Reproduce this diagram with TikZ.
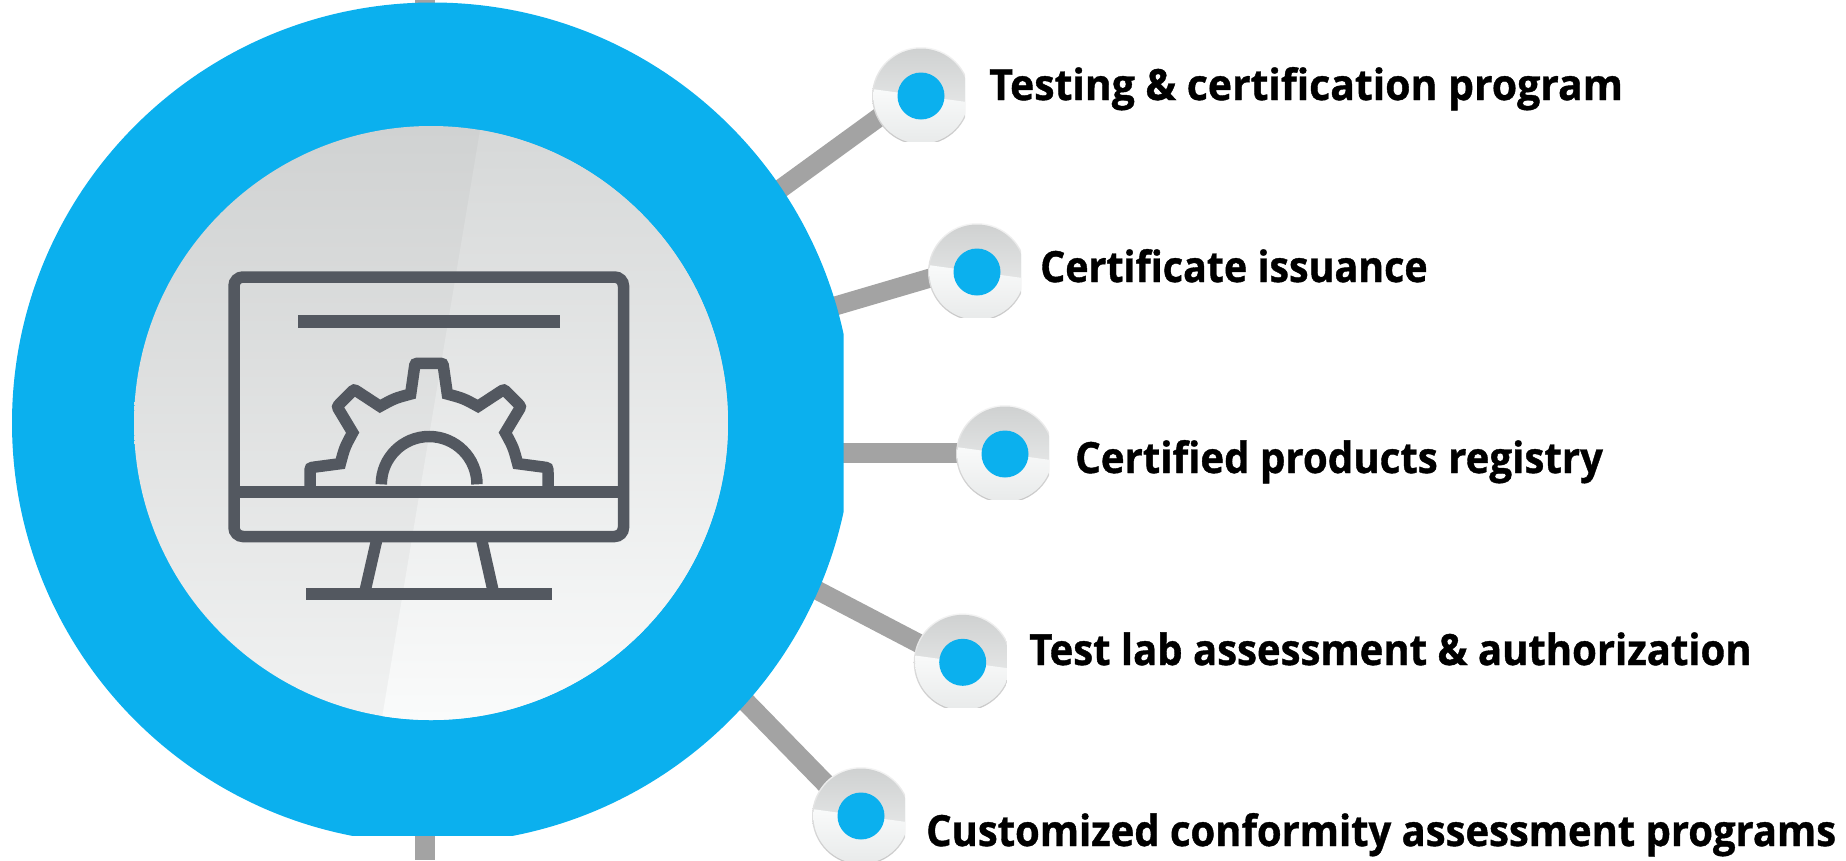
\documentclass[tikz,border=0pt]{standalone}
\usepackage{fontspec}
\newfontfamily\lblA[FakeStretch=0.952,BoldFeatures={FakeBold=0.9}]{Open Sans}
\newfontfamily\lblB[FakeStretch=0.916,BoldFeatures={FakeBold=0.9}]{Open Sans}
\newfontfamily\lblC[FakeStretch=0.935,BoldFeatures={FakeBold=0.9}]{Open Sans}
\newfontfamily\lblD[FakeStretch=0.931,BoldFeatures={FakeBold=0.9}]{Open Sans}
\newfontfamily\lblE[FakeStretch=0.929,BoldFeatures={FakeBold=0.9}]{Open Sans}
\definecolor{hubblue}{HTML}{0BB0EE}
\definecolor{connGrey}{HTML}{A3A3A3}
\definecolor{iconGrey}{HTML}{535860}
\definecolor{discTopA}{HTML}{D0D2D2}
\definecolor{discBotA}{HTML}{F1F2F2}
\definecolor{discTopB}{HTML}{D6D8D8}
\definecolor{discBotB}{HTML}{FAFBFB}
\definecolor{satTop}{HTML}{CFD1D1}
\definecolor{satTopL}{HTML}{F2F3F3}
\definecolor{satLow}{HTML}{FAFBFB}
\definecolor{satLowR}{HTML}{E8EAEA}
\definecolor{rimLight}{HTML}{F4F4F4}
\definecolor{rimDark}{HTML}{C8C8C8}
\tikzset{
  conn/.style={draw=connGrey,line width=19pt},
  iconline/.style={draw=iconGrey,line width=11.5pt,line join=miter},
  dot/.style={circle,fill=hubblue,minimum size=47pt,inner sep=0pt},
  lbl/.style={anchor=base west,inner sep=0pt,text=black},
}
\newcommand{\lsize}{\fontsize{43}{43}\selectfont\bfseries}
\newcommand{\satellite}[2]{%
  \begin{scope}[shift={(#1)}]
    \clip (-50,-50) rectangle (44,45);
    \shade[shading angle=300,top color=rimLight,bottom color=rimDark] (0,0) circle (49);
    \begin{scope}
      \clip (0,0) circle (47.5);
      \shade[shading angle=285,top color=satTop,bottom color=satTopL] (-48,-48) rectangle (48,48);
      \clip (-60,-8.5) -- (60,8) -- (60,60) -- (-60,60) -- cycle;
      \shade[shading angle=50,top color=satLow,bottom color=satLowR] (-48,-10) rectangle (48,48);
    \end{scope}
    \node[dot] (#2) at (0,0) {};
  \end{scope}}
\begin{document}
\begin{tikzpicture}[x=1pt,y=-1pt]
\useasboundingbox (0,0) rectangle (1846,860);
% connector end points
\coordinate (t0) at (425,0);   \coordinate (t1) at (425,30);
\coordinate (b0) at (425,825); \coordinate (b1) at (425,860);
\coordinate (a1) at (770,196.5); \coordinate (e1) at (900,102);
\coordinate (a2) at (825,309);   \coordinate (e2) at (950,272.2);
\coordinate (a3) at (830,452.7); \coordinate (e3) at (980,452.7);
\coordinate (a4) at (800,581.3); \coordinate (e4) at (940,654.5);
\coordinate (a5) at (735,690.7); \coordinate (e5) at (845,803.5);
\draw[conn,line width=20pt] (t0) -- (t1);
\draw[conn,line width=20pt] (b0) -- (b1);
\draw[conn] (a1) -- (e1);
\draw[conn] (a2) -- (e2);
\draw[conn,line width=20pt] (a3) -- (e3);
\draw[conn] (a4) -- (e4);
\draw[conn,line width=19.5pt] (a5) -- (e5);
% hub
\begin{scope}
  \clip (0,0) rectangle (843.5,835.5);
  \node[circle,fill=hubblue,minimum size=841pt,inner sep=0pt] (hub) at (432.5,423) {};
\end{scope}
% inner disc
\begin{scope}
  \clip (431,423) circle (297);
  \shade[shading angle=30,top color=discTopA,bottom color=discBotA] (134,126) rectangle (728,720);
  \clip (485,100) -- (760,100) -- (760,760) -- (375,760) -- cycle;
  \shade[shading angle=30,top color=discTopB,bottom color=discBotB] (134,126) rectangle (728,720);
\end{scope}
% monitor
\draw[iconline,rounded corners=9pt] (234,277) rectangle (623.5,536.5);
\draw[iconline] (229,492) -- (628,492);
\draw[iconline,line width=12.5pt] (298.3,321.3) -- (560,321.3);
\draw[iconline] (306,594) -- (552.3,594);
\draw[iconline] (376.7,540) -- (365.3,590);
\draw[iconline] (481.7,540) -- (492.9,590);
% gear
\begin{scope}[shift={(200,250)},x=0.33333pt,y=-0.33333pt]
  \draw[iconline] (330,712) -- (330,668) .. controls (330,653) .. (345,651)
    -- (421,641) .. controls (434,592) .. (458,548)
    -- (419,483) .. controls (411,470) .. (421.5,459)
    -- (451.5,429) .. controls (462,418) .. (474.5,426)
    -- (540,469) .. controls (583.8,445) .. (632,432)
    -- (643,355) .. controls (645,340) .. (660,340)
    -- (714,340) .. controls (729,340) .. (731,355)
    -- (742,432) .. controls (790,445) .. (834,469)
    -- (899.5,426) .. controls (912,418) .. (922.5,429)
    -- (952.5,459) .. controls (963,470) .. (955,483)
    -- (916,548) .. controls (940,592) .. (953,641)
    -- (1029,651) .. controls (1044,653) .. (1044,668)
    -- (1044,712);
  \draw[iconline] (544,703) arc[start angle=180,end angle=360,radius=143.5];
\end{scope}
% satellites
\satellite{921,96}{n1}
\satellite{977,272}{n2}
\satellite{1005,454}{n3}
\satellite{962.7,662.3}{n4}
\satellite{861,816}{n5}
% labels
\node[lbl,font=\lblA\lsize] (l1) at (989,100) {Testing \& certification program};
\node[lbl,font=\lblB\lsize] (l2) at (1040,282) {Certificate issuance};
\node[lbl,font=\lblC\lsize] (l3) at (1075,473) {Certified products registry};
\node[lbl,font=\lblD\lsize] (l4) at (1029,665) {Test lab assessment \& authorization};
\node[lbl,font=\lblE\lsize] (l5) at (926,846) {Customized conformity assessment programs};
\end{tikzpicture}
\end{document}
